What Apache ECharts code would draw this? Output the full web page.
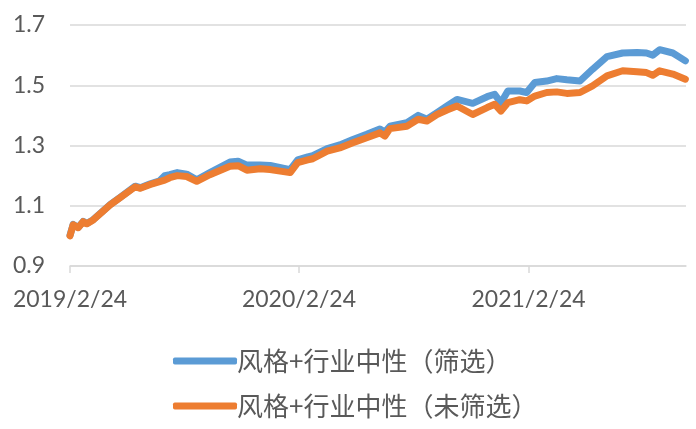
<!DOCTYPE html>
<html>
<head>
<meta charset="utf-8">
<script src="https://cdn.jsdelivr.net/npm/echarts@6/dist/echarts.min.js"></script>
<style>
html,body{margin:0;padding:0;background:#fff;}
#chart{width:696px;height:429px;}
</style>
</head>
<body>
<div id="chart"></div>
<script>
// Start date of the series; x values are day offsets from this date
const startDate = '2019-02-24';
const dayOffsets = [0,5,13,21,27,37,64,80,104,112,127,143,151,159,171,186,202,223,255,268,282,303,319,351,363,379,387,410,430,451,473,494,502,510,537,555,569,585,601,617,642,665,677,687,698,717,728,741,760,776,792,813,833,856,881,904,919,929,940,961,981];
// 风格+行业中性（筛选） – blue
const screened = [1.002,1.038,1.028,1.048,1.041,1.054,1.104,1.128,1.165,1.160,1.172,1.183,1.200,1.203,1.210,1.205,1.186,1.210,1.245,1.248,1.235,1.235,1.234,1.220,1.252,1.262,1.266,1.290,1.302,1.320,1.337,1.355,1.345,1.364,1.376,1.400,1.387,1.409,1.431,1.453,1.440,1.462,1.470,1.442,1.481,1.481,1.476,1.509,1.514,1.522,1.518,1.514,1.553,1.595,1.607,1.609,1.607,1.600,1.618,1.607,1.581];
// 风格+行业中性（未筛选） – orange
const unscreened = [1.000,1.037,1.027,1.047,1.040,1.053,1.103,1.127,1.163,1.158,1.170,1.180,1.185,1.193,1.200,1.197,1.181,1.203,1.231,1.233,1.218,1.223,1.220,1.210,1.243,1.252,1.256,1.281,1.292,1.309,1.326,1.342,1.331,1.356,1.364,1.387,1.381,1.403,1.418,1.431,1.403,1.426,1.437,1.414,1.442,1.452,1.448,1.464,1.476,1.478,1.473,1.476,1.498,1.531,1.548,1.545,1.542,1.533,1.548,1.537,1.520];
const seriesNames = ['风格+行业中性（筛选）', '风格+行业中性（未筛选）'];
const xTickDates = ['2019/2/24', '2020/2/24', '2021/2/24'];
const xMaxOffset = 982;

const DAY = 86400000;
function parseYMD(s) { const p = s.split(/[-\/]/).map(Number); return Date.UTC(p[0], p[1] - 1, p[2]); }
const t0 = parseYMD(startDate);
const tickOffsets = xTickDates.map(d => Math.round((parseYMD(d) - t0) / DAY));
function offsetToLabel(v) {
  const d = new Date(t0 + Math.round(v) * DAY);
  return d.getUTCFullYear() + '/' + (d.getUTCMonth() + 1) + '/' + d.getUTCDate();
}

const textColor = '#595959';
const gridColor = '#d9d9d9';
const legendText = { color: textColor, fontSize: 26, fontFamily: '"Noto Sans CJK TC", "Noto Sans CJK SC", sans-serif', padding: [0, 0, 0, -5] };
const chart = echarts.init(document.getElementById('chart'), null, { renderer: 'canvas' });
chart.setOption({
  animation: false,
  backgroundColor: '#ffffff',
  grid: { left: 70, right: 10, top: 25, bottom: 163, containLabel: false },
  xAxis: {
    type: 'value',
    min: 0,
    max: xMaxOffset,
    axisLine: { show: true, lineStyle: { color: gridColor, width: 1.5 } },
    axisTick: { show: true, customValues: tickOffsets, length: 7, lineStyle: { color: gridColor, width: 1.5 } },
    axisLabel: {
      customValues: tickOffsets,
      formatter: offsetToLabel,
      color: textColor,
      fontFamily: 'Lato',
      fontSize: 23,
      margin: 22
    },
    splitLine: { show: false }
  },
  yAxis: {
    type: 'value',
    min: 0.9,
    max: 1.7,
    interval: 0.2,
    axisLine: { show: false },
    axisTick: { show: false },
    axisLabel: {
      color: textColor,
      fontFamily: 'Lato',
      fontSize: 23,
      margin: 25,
      formatter: v => v.toFixed(1)
    },
    splitLine: { show: true, lineStyle: { color: gridColor, width: 1.5 } }
  },
  legend: [
    {
      data: [seriesNames[0]], orient: 'vertical', left: 168, top: 343,
      icon: 'roundRect', itemWidth: 64, itemHeight: 7, itemGap: 0,
      textStyle: legendText
    },
    {
      data: [seriesNames[1]], orient: 'vertical', left: 168, top: 388,
      icon: 'roundRect', itemWidth: 64, itemHeight: 7, itemGap: 0,
      textStyle: legendText
    }
  ],
  series: [
    {
      name: seriesNames[0], type: 'line', showSymbol: false, symbol: 'none',
      data: dayOffsets.map((d, i) => [d, screened[i]]),
      itemStyle: { color: '#5B9BD5' },
      lineStyle: { color: '#5B9BD5', width: 7, cap: 'round', join: 'round' },
      z: 2
    },
    {
      name: seriesNames[1], type: 'line', showSymbol: false, symbol: 'none',
      data: dayOffsets.map((d, i) => [d, unscreened[i]]),
      itemStyle: { color: '#ED7D31' },
      lineStyle: { color: '#ED7D31', width: 7, cap: 'round', join: 'round' },
      z: 3
    }
  ]
});
</script>
</body>
</html>
